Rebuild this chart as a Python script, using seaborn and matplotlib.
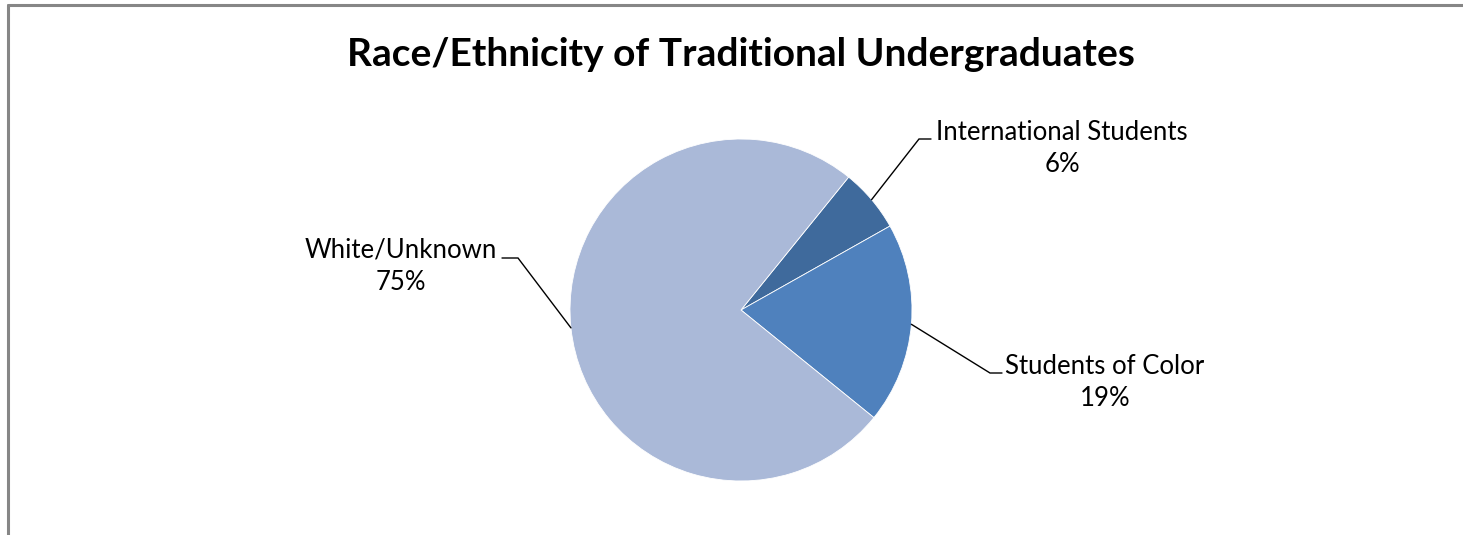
import numpy as np
import seaborn as sns
import matplotlib.pyplot as plt
from matplotlib.lines import Line2D

# data
categories = ["International Students", "Students of Color", "White/Unknown"]
shares = [6, 19, 75]
pct_labels = ["6%", "19%", "75%"]
colors = ["#3F6A9C", "#4F81BD", "#AAB9D8"]

sns.set_style("white")
plt.rcParams["font.family"] = ["Lato", "DejaVu Sans"]

W, H = 1463, 535
fig = plt.figure(figsize=(W / 100, H / 100), dpi=100)
ax = fig.add_axes([0, 0, 1, 1])

cx, cy, r = 741, H - 310, 171
wedges, _ = ax.pie(shares, colors=colors, startangle=51, counterclock=False,
                   center=(cx, cy), radius=r, frame=True,
                   wedgeprops=dict(edgecolor="white", linewidth=0.6))
ax.set_xlim(0, W)
ax.set_ylim(0, H)
ax.set_aspect("equal")
ax.axis("off")

# label layout: (elbow x, elbow y, end x, text x, text y)
layout = {
    "International Students": (919, H - 139, 931, 1062, H - 149),
    "Students of Color": (990, H - 373, 1002, 1105, H - 382),
    "White/Unknown": (518, H - 258, 502, 401, H - 266),
}

for w, cat, pct in zip(wedges, categories, pct_labels):
    mid = np.deg2rad((w.theta1 + w.theta2) / 2)
    ax_x, ax_y = cx + r * np.cos(mid), cy + r * np.sin(mid)
    ex, ey, endx, tx, ty = layout[cat]
    ax.plot([ax_x, ex, endx], [ax_y, ey, ey], color="black", lw=1.0,
            solid_joinstyle="miter")
    ax.text(tx, ty, f"{cat}\n{pct}", ha="center", va="center", fontsize=18.5,
            linespacing=1.35, color="black")

ax.text(741, H - 55, "Race/Ethnicity of Traditional Undergraduates",
        ha="center", va="center", fontsize=28, fontweight="bold", color="black")

# chart frame (top and left edges visible)
fig.add_artist(Line2D([7.5 / W, 1], [1 - 4.5 / H, 1 - 4.5 / H], color="#868686",
                      lw=2.2, transform=fig.transFigure))
fig.add_artist(Line2D([7.5 / W, 7.5 / W], [0, 1 - 4.5 / H], color="#868686",
                      lw=2.2, transform=fig.transFigure))

fig.savefig("out.png", dpi=100)
